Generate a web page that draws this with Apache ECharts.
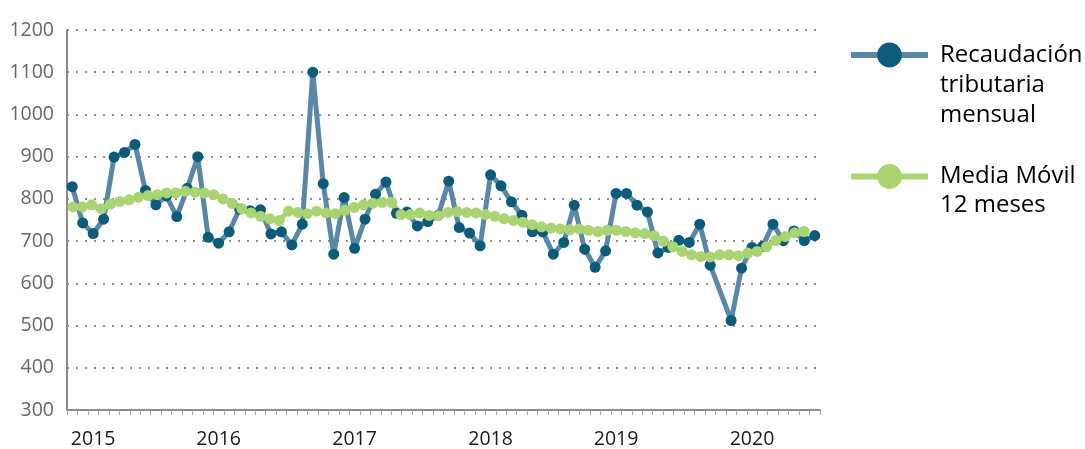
<!DOCTYPE html>
<html>
<head>
<meta charset="utf-8">
<script src="https://cdn.jsdelivr.net/npm/echarts@6/dist/echarts.min.js"></script>
<style>
html,body{margin:0;padding:0;background:#fff;}
#chart{width:1085px;height:449px;}
</style>
</head>
<body>
<div id="chart"></div>
<script>
// ---- data ----
const years = ['2015', '2016', '2017', '2018', '2019', '2020'];
const monthNames = ['ene', 'feb', 'mar', 'abr', 'may', 'jun', 'jul', 'ago', 'sep', 'oct', 'nov', 'dic'];
const yearLabels = ['2015', '2016', '2017', '2018', '2019', '2020'];
const yearLabelIndex = [2, 14, 27, 40, 52, 65];
const yTicks = [300, 400, 500, 600, 700, 800, 900, 1000, 1100, 1200];

const recaudacion = [
  829, 743, 718, 752, 899, 910, 929, 820, 786, 807, 758, 825,
  900, 709, 695, 722, 776, 772, 774, 717, 722, 691, 740, 1100,
  836, 669, 803, 683, 752, 811, 840, 766, 769, 736, 746, 761,
  842, 732, 719, 689, 857, 831, 793, 761, 722, 722, 669, 697,
  785, 681, 638, 677, 813, 813, 785, 769, 672, 685, 702, 697,
  740, 643, null, 512, 636, 685, 687, 740, 701, 724, 701, 713
];

const mediaMovil = [
  782, 782, 787, 778, 789, 795, 799, 805, 809, 811, 815, 815,
  819, 817, 815, 811, 801, 790, 778, 768, 760, 754, 750, 772,
  769, 766, 772, 768, 766, 774, 781, 787, 791, 793, 793, 764,
  764, 768, 762, 761, 769, 771, 769, 768, 764, 760, 754, 750,
  746, 740, 735, 732, 730, 728, 730, 727, 724, 727, 727, 724,
  721, 719, 714, 701, 688, 677, 669, 665, 664, 669, 669, 667,
  673, 677, 688, 703, 712, 721, 724
];

const nameRec = 'Recaudación tributaria mensual';
const nameMM = 'Media Móvil 12 meses';
// leading blank lines keep the first text line level with the legend icon
const legendText = {};
legendText[nameRec] = '\n\nRecaudación\ntributaria\nmensual';
legendText[nameMM] = '\nMedia Móvil\n12 meses';

// categories
const months = [];
years.forEach(y => monthNames.forEach(m => months.push(m + '-' + y)));
const mmCategories = mediaMovil.map((v, i) => 'mm' + (i + 1));

const FONT = '"Open Sans"';
const chart = echarts.init(document.getElementById('chart'), null, {renderer: 'canvas'});

const yAxisBase = {
  type: 'value', min: yTicks[0], max: yTicks[yTicks.length - 1], interval: 100
};

chart.setOption({
  animation: false,
  backgroundColor: '#ffffff',
  textStyle: {fontFamily: FONT},
  grid: [
    {left: 67, right: 265, top: 30, bottom: 38, containLabel: false},
    {left: 73, right: 281, top: 30, bottom: 38, containLabel: false}
  ],
  xAxis: [
    {
      type: 'category', gridIndex: 0, data: months, boundaryGap: true,
      axisLine: {show: true, lineStyle: {color: '#8c8c8c', width: 2}},
      axisTick: {show: true, interval: 0, length: 5, lineStyle: {color: '#a6a6a6', width: 1}},
      axisLabel: {
        show: true,
        interval: (idx) => yearLabelIndex.indexOf(idx) >= 0,
        formatter: (val, idx) => yearLabels[yearLabelIndex.indexOf(idx)] || '',
        color: '#1a1a1a', fontSize: 19.5, fontFamily: FONT, margin: 19
      },
      splitLine: {show: false}
    },
    {
      type: 'category', gridIndex: 1, data: mmCategories, boundaryGap: false,
      show: false
    }
  ],
  yAxis: [
    Object.assign({}, yAxisBase, {
      gridIndex: 0,
      axisLine: {show: true, lineStyle: {color: '#8c8c8c', width: 2}},
      axisTick: {show: false},
      axisLabel: {color: '#666666', fontSize: 19.5, fontFamily: FONT, margin: 13, formatter: v => String(v)},
      splitLine: {show: true, lineStyle: {color: '#8f8f8f', width: 2, type: [2, 7]}}
    }),
    Object.assign({}, yAxisBase, {gridIndex: 1, show: false, splitLine: {show: false}})
  ],
  legend: [
    {
      left: 848, top: -20, padding: 0, itemWidth: 77, itemHeight: 31,
      selectedMode: false,
      formatter: n => legendText[n],
      lineStyle: {width: 6},
      textStyle: {fontFamily: FONT, fontSize: 24, color: '#000', lineHeight: 30, padding: [0, 0, 0, 7]},
      data: [nameRec]
    },
    {
      left: 848, top: 133, padding: 0, itemWidth: 77, itemHeight: 31,
      selectedMode: false,
      formatter: n => legendText[n],
      lineStyle: {width: 6},
      textStyle: {fontFamily: FONT, fontSize: 24, color: '#000', lineHeight: 29, padding: [0, 0, 0, 7]},
      data: [nameMM]
    }
  ],
  series: [
    {
      name: nameRec, type: 'line', xAxisIndex: 0, yAxisIndex: 0,
      data: recaudacion, connectNulls: true,
      symbol: 'circle', symbolSize: 11, showAllSymbol: true,
      lineStyle: {color: '#5b87a7', width: 5},
      itemStyle: {color: '#0b5b7d'},
      emphasis: {disabled: true}
    },
    {
      name: nameMM, type: 'line', xAxisIndex: 1, yAxisIndex: 1,
      data: mediaMovil,
      symbol: 'circle', symbolSize: 11, showAllSymbol: true,
      lineStyle: {color: '#a9d46f', width: 5},
      itemStyle: {color: '#a9d46f'},
      emphasis: {disabled: true}
    }
  ]
});
</script>
</body>
</html>
